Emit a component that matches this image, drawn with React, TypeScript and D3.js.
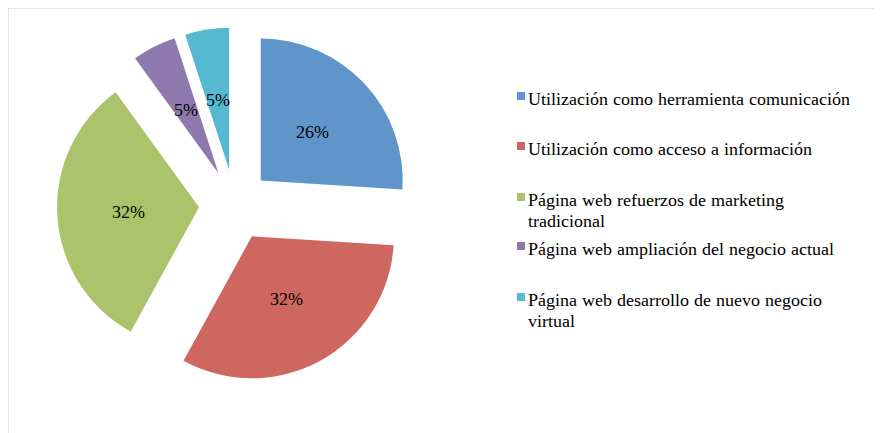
import React, { useEffect, useState } from "react";
import * as d3 from "d3";

const categories = [
  "Utilización como herramienta comunicación",
  "Utilización como acceso a información",
  "Página web refuerzos de marketing tradicional",
  "Página web ampliación del negocio actual",
  "Página web desarrollo de nuevo negocio virtual",
];
const values = [26, 32, 32, 5, 5];
const labels = ["26%", "32%", "32%", "5%", "5%"];
const legendLines = [
  ["Utilización como herramienta comunicación"],
  ["Utilización como acceso a información"],
  ["Página web refuerzos de marketing", "tradicional"],
  ["Página web ampliación del negocio actual"],
  ["Página web desarrollo de nuevo negocio", "virtual"],
];
const colors = ["#6095C9", "#CD6760", "#ABC46B", "#8F78AE", "#55B9D2"];

const css = `
@font-face { font-family: "ChartSerif"; src: local("Liberation Serif"), local("LiberationSerif"), local("Tinos"), local("Tinos-Regular"); }
.cs { font-family: "ChartSerif", "Tinos", "Liberation Serif", "Times New Roman", "FreeSerif", serif; }
`;

export default function App() {
  const [ready, setReady] = useState(0);
  useEffect(() => {
    let done = false;
    const finish = () => { if (!done) { done = true; setReady((v) => v + 1); } };
    try {
      (document as any).fonts.load('18px "ChartSerif"').then(finish, finish);
    } catch (e) { finish(); }
    const t = setTimeout(finish, 400);
    return () => clearTimeout(t);
  }, []);
  const W = 882, H = 433;
  const cx = 234.7 - 8, cy = 205 - 8;
  const r = 142;
  const explode = 35.7;
  const pie = d3.pie<number>().sort(null).value((d) => d)(values);
  const arc = d3.arc<d3.PieArcDatum<number>>().innerRadius(0).outerRadius(r);
  const legendX = 517 - 8;
  const legendY = [92, 142, 193, 242, 293].map((v) => v - 8);
  return (
    <svg key={ready} width={W} height={H} style={{ display: "block" }}>
      <style>{css}</style>
      <rect x={-0.5} y={-0.5} width={W + 20} height={H + 20} fill="#fff" stroke="#9a9a9a" strokeWidth={1.5} />
      {pie.map((p, i) => {
        const mid = (p.startAngle + p.endAngle) / 2;
        const ox = cx + explode * Math.sin(mid);
        const oy = cy - explode * Math.cos(mid);
        const lx = ox + r * 0.5 * Math.sin(mid);
        const ly = oy - r * 0.5 * Math.cos(mid);
        return (
          <g key={i}>
            <path d={arc(p) || ""} transform={`translate(${ox},${oy})`} fill={colors[i]} />
            <text className="cs" x={lx} y={ly + 6} textAnchor="middle" fontSize={18} fill="#000">
              {labels[i]}
            </text>
          </g>
        );
      })}
      {categories.map((c, i) => (
        <g key={c}>
          <rect x={legendX} y={legendY[i]} width={8} height={8} fill={colors[i]} />
          {legendLines[i].map((line, j) => (
            <text className="cs" key={j} x={legendX + 11} y={legendY[i] + 12.5 + j * 21} fontSize={18} fill="#000">
              {line}
            </text>
          ))}
        </g>
      ))}
    </svg>
  );
}
